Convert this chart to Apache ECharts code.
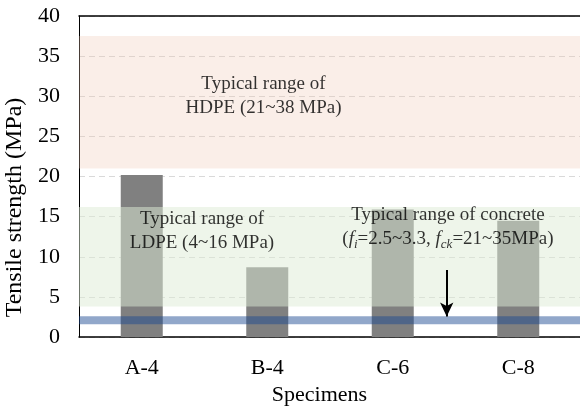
<!DOCTYPE html>
<html><head><meta charset="utf-8">
<script src="https://cdn.jsdelivr.net/npm/echarts@6/dist/echarts.min.js"></script>
<style>html,body{margin:0;padding:0;background:#fff}#c{width:580px;height:417px}</style>
</head><body><div id="c"></div>
<script>
// ---- data ----
const categories = ['A-4', 'B-4', 'C-6', 'C-8'];
const tensileStrength = [20.2, 8.7, 15.9, 14.5];
const hdpeRange = [21, 37.5];
const ldpeRange = [3.8, 16.2];
const concreteRange = [1.6, 2.6];
const yMin = 0, yMax = 40, yStep = 5;
const annotationTexts = [
  'Typical range of\nHDPE (21~38 MPa)',
  'Typical range of\nLDPE (4~16 MPa)',
  'Typical range of concrete\n({it|f}{sub|i}=2.5~3.3, {it|f}{sub|ck}=21~35MPa)'
];
const annotationAnchors = [[0.97, 30.0], [0.48, 13.2], [2.44, 13.7]];
const arrowStart = [2.43, 8.35];
const arrowEnd = [2.43, 2.55];

const FONT = '"Liberation Serif", "Times New Roman", serif';
const chart = echarts.init(document.getElementById('c'), null, {renderer: 'canvas'});

const option = {
  animation: false,
  backgroundColor: '#fff',
  grid: {left: 79, right: -1, top: 16, bottom: 80, containLabel: false, outerBoundsMode: 'none'},
  xAxis: [
    {
      type: 'category', data: categories, position: 'bottom',
      name: 'Specimens', nameLocation: 'middle', nameGap: 40,
      nameTextStyle: {fontFamily: FONT, fontSize: 22, color: '#000', padding: [0, 21, 0, 0]},
      axisLine: {show: true, onZero: false, lineStyle: {color: '#000', width: 1.5}},
      axisTick: {show: false},
      axisLabel: {fontFamily: FONT, fontSize: 22, color: '#000', margin: 20},
      splitLine: {show: false}
    },
    {
      type: 'value', min: -0.5, max: 3.5, position: 'top',
      axisLine: {show: true, onZero: false, lineStyle: {color: '#000', width: 1.5}},
      axisTick: {show: false}, axisLabel: {show: false}, splitLine: {show: false}
    }
  ],
  yAxis: {
    type: 'value', min: yMin, max: yMax, interval: yStep,
    name: 'Tensile strength (MPa)', nameLocation: 'middle', nameGap: 44,
    nameTextStyle: {fontFamily: FONT, fontSize: 24, color: '#000', padding: [0, 62, 0, 0]},
    axisLine: {show: true, onZero: false, lineStyle: {color: '#000', width: 1}},
    axisTick: {show: false},
    axisLabel: {fontFamily: FONT, fontSize: 22, color: '#000', margin: 19},
    splitLine: {show: true, lineStyle: {type: [6, 4], color: '#d9d9d9', width: 1}}
  },
  series: [
    {
      name: 'HDPE', type: 'line', xAxisIndex: 1, data: [], z: 1, silent: true,
      markArea: {silent: true, z: 1, itemStyle: {color: 'rgba(240,200,180,0.3)'},
        data: [[{yAxis: hdpeRange[0]}, {yAxis: hdpeRange[1]}]]}
    },
    {
      name: 'Tensile strength', type: 'bar', xAxisIndex: 0, data: tensileStrength,
      barWidth: 42, itemStyle: {color: '#808080'}, z: 2
    },
    {
      name: 'LDPE', type: 'line', xAxisIndex: 1, data: [], z: 3, silent: true,
      markArea: {silent: true, z: 3, itemStyle: {color: 'rgba(221,235,213,0.5)'},
        data: [[{yAxis: ldpeRange[0]}, {yAxis: ldpeRange[1]}]]}
    },
    {
      name: 'Concrete', type: 'line', xAxisIndex: 1, data: [], z: 4, silent: true,
      markArea: {silent: true, z: 4, itemStyle: {color: 'rgba(25,72,145,0.48)'},
        data: [[{yAxis: concreteRange[0]}, {yAxis: concreteRange[1]}]]}
    },
    {
      name: 'Notes', type: 'scatter', xAxisIndex: 1, symbolSize: 0, z: 6, silent: true,
      data: annotationAnchors.map((p, i) => ({value: p, label: {formatter: annotationTexts[i]}})),
      label: {
        show: true, position: 'inside', fontFamily: FONT, fontSize: 19, color: '#000',
        lineHeight: 24, align: 'center', verticalAlign: 'middle',
        rich: {
          it: {fontFamily: FONT, fontSize: 19, fontStyle: 'italic', color: '#000'},
          sub: {fontFamily: FONT, fontSize: 13, fontStyle: 'italic', color: '#000', verticalAlign: 'bottom', lineHeight: 13}
        }
      },
      markLine: {
        silent: true, z: 6, symbol: ['none', 'arrow'], symbolSize: [10, 14],
        lineStyle: {color: '#000', width: 2, type: 'solid'},
        label: {show: false},
        data: [[{coord: arrowStart}, {coord: arrowEnd}]]
      }
    }
  ]
};
chart.setOption(option);
</script>
</body></html>
